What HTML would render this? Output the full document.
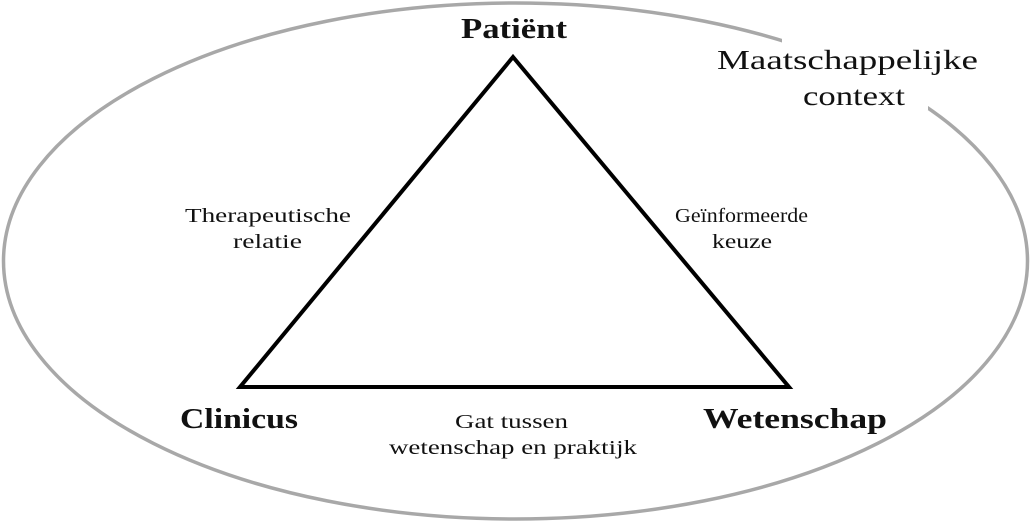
<!DOCTYPE html>
<html><head><style>
html,body{margin:0;padding:0;background:#fff;}
svg{display:block;}
text{font-family:"Liberation Serif",serif;fill:#111;}
</style></head><body>
<svg width="1030" height="522" viewBox="0 0 1030 522">
<ellipse cx="515.5" cy="261" rx="512" ry="258" fill="none" stroke="#a8a8a8" stroke-width="3.5"/>
<rect x="782" y="30" width="146" height="80" fill="#fff"/>
<polygon points="513,57 240,387 789,387" fill="none" stroke="#000" stroke-width="4" stroke-linejoin="miter"/>
<text x="461" y="38" font-size="28" font-weight="bold" textLength="106" lengthAdjust="spacingAndGlyphs">Patiënt</text>
<text x="180" y="428" font-size="28" font-weight="bold" textLength="118" lengthAdjust="spacingAndGlyphs">Clinicus</text>
<text x="703" y="428" font-size="28" font-weight="bold" textLength="184" lengthAdjust="spacingAndGlyphs">Wetenschap</text>
<text x="717" y="69" font-size="27" textLength="261" lengthAdjust="spacingAndGlyphs">Maatschappelijke</text>
<text x="803" y="105" font-size="27" textLength="102" lengthAdjust="spacingAndGlyphs">context</text>
<text x="185" y="222" font-size="20" textLength="166" lengthAdjust="spacingAndGlyphs">Therapeutische</text>
<text x="233" y="248" font-size="20" textLength="69" lengthAdjust="spacingAndGlyphs">relatie</text>
<text x="675" y="222" font-size="20" textLength="133" lengthAdjust="spacingAndGlyphs">Geïnformeerde</text>
<text x="742" y="248" font-size="20" text-anchor="middle" textLength="60" lengthAdjust="spacingAndGlyphs">keuze</text>
<text x="455" y="428" font-size="20" textLength="113" lengthAdjust="spacingAndGlyphs">Gat tussen</text>
<text x="389" y="454" font-size="20" textLength="248" lengthAdjust="spacingAndGlyphs">wetenschap en praktijk</text>
</svg>
</body></html>
